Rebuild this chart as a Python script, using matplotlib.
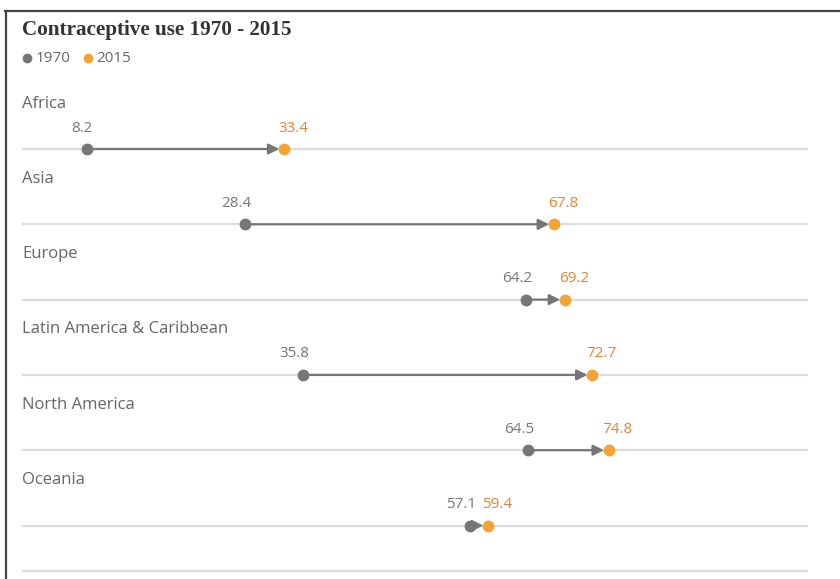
import matplotlib
matplotlib.use("Agg")
import matplotlib.pyplot as plt
from matplotlib.lines import Line2D

regions = ["Africa", "Asia", "Europe", "Latin America & Caribbean", "North America", "Oceania"]
use_1970 = [8.2, 28.4, 64.2, 35.8, 64.5, 57.1]
use_2015 = [33.4, 67.8, 69.2, 72.7, 74.8, 59.4]
title = "Contraceptive use 1970 - 2015"
legend_labels = ["1970", "2015"]

W, H = 840, 579
GRAY = "#767676"
ORANGE = "#f5a334"
ORANGE_TXT = "#e8822e"
LINE = "#dcdcdc"
TXT = "#666666"
FONT = "Open Sans"

fig = plt.figure(figsize=(W / 100, H / 100), dpi=100)
fig.patch.set_facecolor("white")

def fx(x):
    return x / W

def fy(y):
    return 1 - y / H

# frame (top & left border)
fig.add_artist(Line2D([fx(5), fx(840)], [fy(10.5), fy(10.5)], color="#444444", lw=1.6))
fig.add_artist(Line2D([fx(5.5), fx(5.5)], [fy(10.5), fy(579)], color="#444444", lw=1.6))

# title and legend
fig.text(fx(22), fy(30.5), title, fontsize=15.2, fontweight="bold", family="Liberation Serif",
         color="#333333", va="center", ha="left")
fig.add_artist(Line2D([fx(27)], [fy(58)], marker="o", ms=6, color=GRAY, lw=0))
fig.text(fx(35.5), fy(58), legend_labels[0], fontsize=11, family=FONT, color=TXT, va="center")
fig.add_artist(Line2D([fx(88)], [fy(58)], marker="o", ms=6, color=ORANGE, lw=0))
fig.text(fx(96.5), fy(58), legend_labels[1], fontsize=11, family=FONT, color=TXT, va="center")

# data axes (pixel-like y coordinates)
ax = fig.add_axes([fx(22), 0, (808 - 22) / W, 1])
ax.set_xlim(-0.06, 100.19)
ax.set_ylim(H, 0)
ax.axis("off")

row0, step = 149, 75.3
for i, (r, a, b) in enumerate(zip(regions, use_1970, use_2015)):
    y = row0 + i * step
    ax.axhline(y, color=LINE, lw=1.6, zorder=1)
    ax.text(0, y - 45.5, r, fontsize=12, family=FONT, color=TXT, va="center", ha="left")
    ax.annotate("", xy=(b, y), xytext=(a, y),
                arrowprops=dict(arrowstyle="-|>,head_length=0.8,head_width=0.4", color=GRAY,
                                lw=1.6, shrinkA=0, shrinkB=3.6, mutation_scale=8),
                zorder=2)
    ax.plot([a], [y], marker="o", ms=7.5, color=GRAY, lw=0, zorder=3)
    ax.plot([b], [y], marker="o", ms=7.5, color=ORANGE, lw=0, zorder=3)
    ax.annotate(f"{a}", xy=(a, y - 21), xytext=(4.5, 0), textcoords="offset points",
                ha="right", va="center", fontsize=11, family=FONT, color=GRAY)
    ax.annotate(f"{b}", xy=(b, y - 21), xytext=(-4.5, 0), textcoords="offset points",
                ha="left", va="center", fontsize=11, family=FONT, color=ORANGE_TXT)

ax.axhline(571, color=LINE, lw=1.6, zorder=1)

fig.savefig("out.png", dpi=100, facecolor="white")
